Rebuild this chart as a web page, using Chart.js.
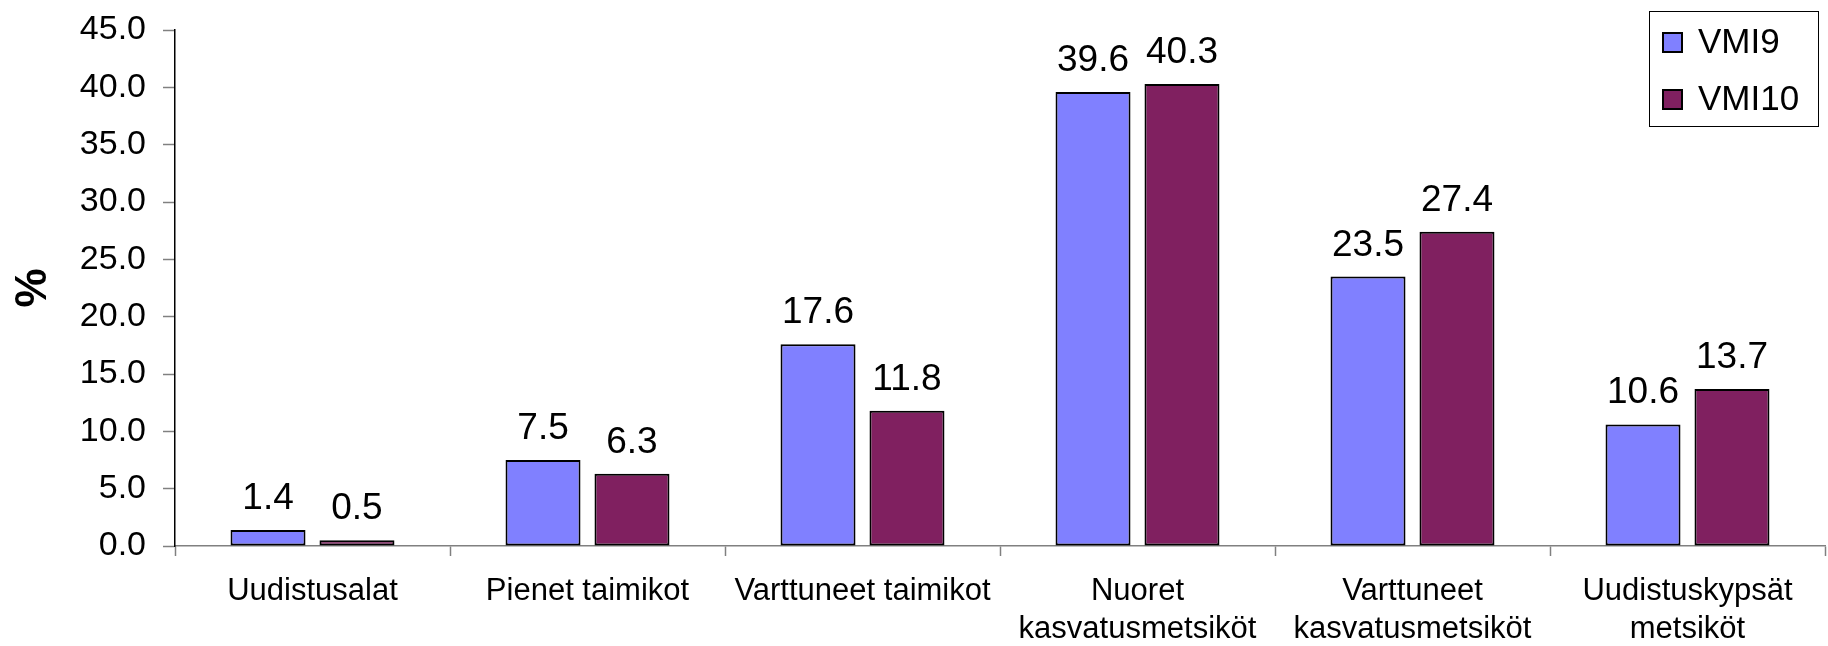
<!DOCTYPE html>
<html>
<head>
<meta charset="utf-8">
<script src="https://cdn.jsdelivr.net/npm/chart.js@4/dist/chart.umd.min.js"></script>
<style>
  html, body { margin: 0; padding: 0; background: #fff; }
  canvas { display: block; }
</style>
</head>
<body>
<canvas id="forestChart" width="1828" height="646"></canvas>
<script>
const FONT = "'Liberation Sans', Arial, sans-serif";

const categories = [
  "Uudistusalat",
  "Pienet taimikot",
  "Varttuneet taimikot",
  ["Nuoret", "kasvatusmetsiköt"],
  ["Varttuneet", "kasvatusmetsiköt"],
  ["Uudistuskypsät", "metsiköt"],
];
const vmi9 = [1.4, 7.5, 17.6, 39.6, 23.5, 10.6];
const vmi10 = [0.5, 6.3, 11.8, 40.3, 27.4, 13.7];
const seriesNames = ["VMI9", "VMI10"];
const seriesColors = ["#8080FF", "#802060"];
const yTicks = [0, 5, 10, 15, 20, 25, 30, 35, 40, 45];
const yTitle = "%";

// value labels above each bar
const valueLabels = {
  id: "valueLabels",
  afterDatasetsDraw(chart) {
    const ctx = chart.ctx;
    ctx.save();
    ctx.font = `37px ${FONT}`;
    ctx.fillStyle = "#000";
    ctx.textAlign = "center";
    ctx.textBaseline = "alphabetic";
    chart.data.datasets.forEach((ds, i) => {
      chart.getDatasetMeta(i).data.forEach((bar, j) => {
        ctx.fillText(ds.data[j].toFixed(1), bar.x, bar.y - 21);
      });
    });
    ctx.restore();
  },
};

// boxed legend in the top right corner
const boxLegend = {
  id: "boxLegend",
  afterDraw(chart) {
    const ctx = chart.ctx;
    ctx.save();
    ctx.strokeStyle = "#000";
    ctx.lineWidth = 1;
    ctx.strokeRect(1649.5, 11.5, 169, 115);
    ctx.font = `35px ${FONT}`;
    ctx.textBaseline = "middle";
    chart.data.datasets.forEach((ds, i) => {
      const cy = 42.5 + i * 57;
      ctx.fillStyle = ds.backgroundColor;
      ctx.fillRect(1662, cy - 10.5, 21, 21);
      ctx.lineWidth = 2;
      ctx.strokeStyle = "#000";
      ctx.strokeRect(1663, cy - 9.5, 19, 19);
      ctx.fillStyle = "#000";
      ctx.fillText(ds.label, 1698, cy + 1);
    });
    ctx.restore();
  },
};

const ctx = document.getElementById("forestChart").getContext("2d");

new Chart(ctx, {
  type: "bar",
  data: {
    labels: categories,
    datasets: [vmi9, vmi10].map((values, i) => ({
      label: seriesNames[i],
      data: values,
      backgroundColor: seriesColors[i],
      borderColor: "#000",
      borderWidth: 2,
      borderSkipped: false,
      categoryPercentage: 0.647,
      barPercentage: 0.843,
    })),
  },
  options: {
    responsive: false,
    animation: false,
    devicePixelRatio: 1,
    layout: { padding: { top: 30, right: 3, bottom: 0, left: 0 } },
    plugins: {
      legend: { display: false },
      tooltip: { enabled: false },
    },
    scales: {
      x: {
        grid: {
          display: true,
          offset: true,
          drawOnChartArea: false,
          drawTicks: true,
          tickLength: 10,
          tickColor: "#808080",
          tickWidth: 1.5,
        },
        border: { color: "#808080", width: 1.5 },
        ticks: {
          color: "#000",
          font: { family: FONT, size: 31, lineHeight: 1.22 },
          padding: 17,
          maxRotation: 0,
          autoSkip: false,
        },
        afterFit: (scale) => {
          scale.height = 100;
        },
      },
      y: {
        min: 0,
        max: 45,
        afterBuildTicks: (scale) => {
          scale.ticks = yTicks.map((v) => ({ value: v }));
        },
        grid: {
          display: true,
          drawOnChartArea: false,
          drawTicks: true,
          tickLength: 12,
          tickColor: "#808080",
          tickWidth: 1.5,
        },
        border: { color: "#000", width: 1.5 },
        ticks: {
          color: "#000",
          font: { family: FONT, size: 34 },
          padding: 17,
          callback: (value) => value.toFixed(1),
        },
        title: {
          display: true,
          text: yTitle,
          color: "#000",
          font: { family: FONT, size: 44, weight: "bold", lineHeight: 1.2 },
          padding: { top: 7, bottom: 0 },
        },
        afterFit: (scale) => {
          scale.width = 175;
          scale.paddingTop = 0;
          scale.paddingBottom = 0;
        },
      },
    },
  },
  plugins: [valueLabels, boxLegend],
});
</script>
</body>
</html>
